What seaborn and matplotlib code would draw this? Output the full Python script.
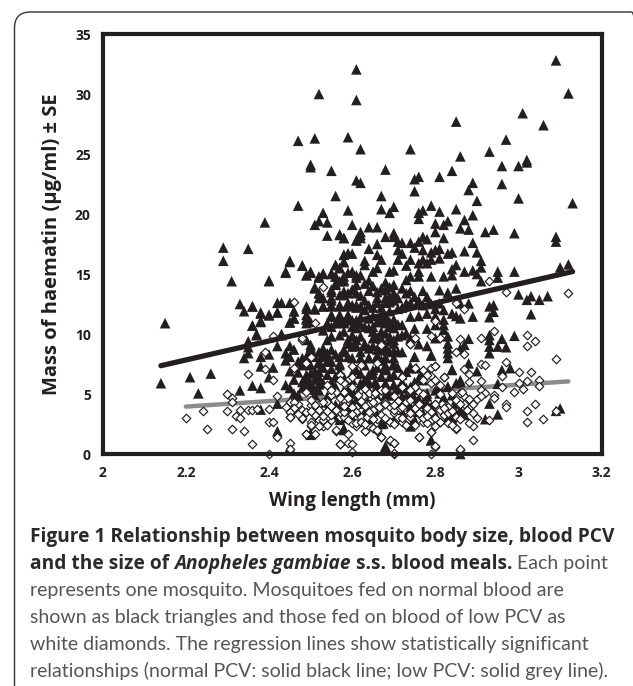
import numpy as np
import pandas as pd
import matplotlib.pyplot as plt
from matplotlib.patches import FancyBboxPatch
import seaborn as sns

# wing length (mm), haematin (ug/ml), region by region
normal_top = [(2.52,30.0),(2.47,26.1),(2.51,26.3),(2.59,26.4),(2.50,24.1),(2.50,23.9),(2.55,23.6),(2.56,21.5),
    (2.47,20.7),(2.59,20.3),(2.53,20.1),(2.39,19.3),(2.52,19.4),(2.54,19.3),(2.51,19.1),(2.60,19.1),(2.54,18.2),
    (2.57,18.3),(2.58,18.0),(2.61,32.05),(2.61,29.5),(2.85,27.7),(3.09,32.8),(3.12,30.05),(3.01,28.4),(3.06,27.4),
    (2.62,25.4),(2.74,25.4),(2.97,26.2),(2.93,25.2),(2.86,24.8),(3.02,24.5),(3.02,24.3),(2.96,24.0),(3.0,24.0),
    (2.68,23.7),(2.84,23.6),(2.81,23.1),(2.76,23.1),(2.75,22.9),(2.61,22.8),(2.62,22.6),(2.89,22.6),(2.96,22.5),
    (2.88,22.0),(2.75,21.9),(2.67,21.5),(2.90,21.1),(3.0,21.3),(3.13,20.9),(2.79,20.7),(2.70,20.6),(2.67,20.4),
    (2.77,20.3),(2.81,20.2),(2.85,20.4),(2.76,20.1),(2.69,20.1),(2.89,19.9),(2.76,19.6),(2.87,19.5),(2.83,19.4),
    (2.80,19.2),(2.82,19.1),(2.64,18.9),(2.66,18.9),(2.86,18.8),(2.88,18.7),(2.80,18.5),(2.92,18.5),(2.94,18.7),
    (2.99,18.4),(3.09,18.1),(3.09,17.7),(2.62,18.5),(2.61,17.8),(2.62,18.0),(2.68,18.1),(2.70,18.4),(2.70,18.1),
    (2.71,17.7),(2.72,17.6),(2.74,17.6),(2.76,17.7),(2.77,18.1),(2.78,17.9),(2.82,18.0),(2.89,17.6),(2.66,17.5)]
normal_left = [(2.15,10.9),(2.14,5.9),(2.21,6.4),(2.26,6.7),(2.23,5.05),(2.29,17.2),(2.35,17.1),(2.29,16.1),
    (2.31,14.4),(2.40,14.4),(2.45,16.1),(2.44,15.1),(2.48,15.7),(2.50,15.1),(2.49,14.9),(2.33,12.5),(2.34,11.9),
    (2.36,12.3),(2.38,11.8),(2.40,11.6),(2.42,12.6),(2.43,12.6),(2.45,12.6),(2.42,11.8),(2.38,11.1),(2.46,11.9),
    (2.46,11.3),(2.45,11.0),(2.49,12.1),(2.49,11.3),(2.49,10.9),(2.50,11.0),(2.51,12.1),(2.36,10.7),(2.37,10.0),
    (2.43,10.0),(2.35,9.4),(2.35,8.9),(2.34,8.0),(2.35,8.4),(2.38,8.1),(2.40,8.3),(2.38,7.3),(2.41,7.2),(2.40,6.4),
    (2.45,6.9),(2.46,6.2),(2.36,5.7),(2.38,5.5),(2.33,5.3),(2.44,5.75),(2.38,3.7),(2.42,1.9),(2.45,0.55),(2.50,1.7),
    (2.42,9.0),(2.45,9.0),(2.44,8.4),(2.46,8.7),(2.44,7.8),(2.45,8.1),(2.49,9.5),(2.50,8.9),(2.47,7.7),(2.48,8.0),
    (2.53,8.7),(2.54,8.1),(2.52,7.7),(2.55,7.7),(2.53,8.3),(2.51,6.9),(2.49,6.3),(2.50,5.9),(2.52,6.4),(2.49,5.9),
    (2.52,5.3),(2.51,4.9),(2.54,4.6),(2.56,6.4),(2.57,7.4),(2.45,5.5),(2.46,5.05),(2.47,4.9),(2.42,4.2)]
normal_upper_mid = [(2.51,13.8),(2.52,13.4),(2.53,13.0),(2.52,14.8),(2.53,15.05),(2.55,15.05),(2.56,15.75),
    (2.57,15.5),(2.56,14.8),(2.58,14.8),(2.56,14.2),(2.55,13.5),(2.57,13.25),(2.59,13.4),(2.55,12.8),(2.53,12.3),
    (2.55,12.3),(2.57,12.4),(2.59,12.4),(2.55,11.6),(2.57,11.6),(2.54,10.9),(2.56,10.9),(2.58,10.9),(2.53,10.3),
    (2.55,9.8),(2.57,9.9),(2.59,9.5),(2.54,9.5),(2.58,16.6),(2.59,16.7),(2.58,8.7),(2.59,8.1),(2.57,8.1),(2.56,5.6),
    (2.57,3.9),(2.54,3.9),(2.56,3.1),(2.58,2.1),(3.10,15.55),(3.12,15.8),(2.99,15.2),(2.95,15.2),(2.95,14.7),
    (2.87,16.9),(2.90,16.8),(2.91,16.1),(2.91,15.55),(2.89,15.3),(2.90,15.0),(2.91,14.4),(2.85,15.75),(2.84,15.4),
    (2.87,15.2),(2.82,14.8),(2.84,14.9),(2.79,14.8),(2.81,16.3),(2.79,16.8),(2.84,16.8),(2.83,16.7),(2.81,17.1),
    (2.77,16.2),(2.78,15.9),(2.76,15.9),(2.74,16.2),(2.73,15.7),(2.71,16.2),(2.70,15.3),(2.69,15.2),(2.76,15.2),
    (2.76,14.8),(2.74,14.8),(2.73,14.5),(2.66,15.5),(2.65,15.2),(2.63,16.1),(2.63,15.75),(2.62,14.9),(2.60,15.2),
    (2.58,16.0),(2.60,16.7),(2.64,14.45),(2.61,14.7),(2.58,14.5),(2.85,13.8),(2.81,13.65),(2.83,13.45),(2.77,13.6),
    (2.74,13.6),(2.78,13.1),(2.76,12.8),(2.73,12.55),(2.70,14.1),(2.69,13.9),(2.68,13.65),(2.70,13.4),(2.69,13.1),
    (2.68,13.0),(2.66,13.5),(2.66,13.0),(2.63,12.8),(2.60,13.65),(2.61,13.4),(2.57,14.4),(2.58,13.55)]
normal_lower_mid = [(3.0,13.3),(3.03,13.15),(3.02,12.85),(3.05,12.85),(3.07,13.15),(3.03,11.65),(2.93,11.4),
    (2.94,12.4),(2.93,12.3),(2.94,11.85),(2.89,11.45),(2.88,12.55),(2.86,12.55),(2.84,11.7),(2.82,12.0),(2.81,12.55),
    (2.76,11.5),(2.74,11.45),(2.71,12.1),(2.69,11.9),(2.67,11.45),(2.63,12.0),(2.64,11.3),(2.61,11.15),(2.60,11.15),
    (2.57,11.45),(2.69,12.65),(2.68,10.9),(2.69,10.6),(2.68,10.05),(2.69,9.8),(2.72,10.75),(2.73,10.05),(2.75,10.45),
    (2.72,9.9),(2.74,9.65),(2.76,9.15),(2.78,9.0),(2.67,8.65),(2.68,8.65),(2.70,9.2),(2.65,9.65),(2.63,9.2),(2.61,9.5),
    (2.60,9.8),(2.60,8.95),(2.62,8.5),(2.58,8.5),(2.80,10.75),(2.78,10.45),(2.80,9.65),(2.82,10.75),(2.82,10.35),
    (2.83,9.8),(2.83,9.2),(2.83,8.8),(2.83,8.4),(2.83,8.0),(2.88,9.6),(2.87,9.1),(2.86,8.8),(2.93,9.9),(2.93,9.5),
    (2.93,8.95),(2.93,8.4),(2.95,8.95),(2.96,9.6),(2.97,8.9),(2.99,9.85),(2.75,8.1),(2.79,8.2),(2.68,8.05),(2.64,8.0),
    (2.68,7.4),(2.58,11.0),(2.59,11.6),(2.60,10.6),(2.61,10.5),(2.62,10.8),(2.63,10.6),(2.64,10.5),(2.65,10.6),
    (2.66,11.0),(2.67,11.0),(2.68,11.5),(2.69,11.0),(2.70,11.2),(2.70,10.5),(2.71,10.8),(2.67,10.2),(2.66,9.7),
    (2.65,10.2),(2.62,9.8),(2.63,9.0),(2.61,9.0),(2.59,9.2),(2.60,8.0),(2.62,8.0),(2.64,8.8),(2.66,8.2),(2.67,7.8),
    (2.68,7.2),(2.70,8.0),(2.72,8.5),(2.67,12.2),(2.68,12.6),(2.70,12.8),(2.67,13.8),(2.68,14.3)]
normal_bottom = [(2.88,7.55),(2.90,6.9),(2.84,7.05),(2.96,7.0),(2.98,7.15),(2.95,5.85),(2.93,4.2),(2.92,2.9),
    (2.95,3.3),(3.10,3.8),(3.09,3.6),(2.70,7.4),(2.71,7.2),(2.74,7.3),(2.73,6.85),(2.65,6.7),(2.62,6.7),(2.60,6.7),
    (2.67,6.45),(2.69,6.45),(2.63,6.15),(2.64,5.9),(2.70,5.75),(2.68,5.6),(2.76,6.3),(2.77,6.85),(2.74,5.6),(2.81,5.6),
    (2.83,5.6),(2.86,6.15),(2.85,5.9),(2.81,5.05),(2.78,5.05),(2.74,4.9),(2.72,4.8),(2.70,4.9),(2.68,4.9),(2.62,4.8),
    (2.58,5.3),(2.60,4.2),(2.61,3.65),(2.72,3.5),(2.74,3.95),(2.75,2.85),(2.77,3.4),(2.78,4.2),(2.84,2.85),(2.85,4.2),
    (2.86,3.65),(2.87,3.25),(2.68,0.65),(2.67,2.5),(2.79,1.15),(2.86,0.0),(2.58,2.0)]
# second pass over the dense middle
normal_dense_low = [(2.50,9.1),(2.53,8.8),(2.55,8.7),(2.49,8.1),(2.51,8.1),(2.53,8.1),(2.52,7.55),(2.54,7.7),(2.57,7.55),
    (2.49,6.6),(2.52,6.85),(2.51,6.2),(2.48,6.0),(2.49,5.9),(2.53,5.9),(2.51,5.35),(2.47,4.9),(2.54,4.8),(2.56,4.1),
    (2.53,3.8),(2.59,5.35),(2.60,5.35),(2.58,4.2),(2.60,4.2),(2.57,2.85),(2.58,2.1),(2.59,3.65),(2.50,1.6),(2.56,6.45),
    (2.64,8.0),(2.66,8.1),(2.68,8.0),(2.75,8.1),(2.79,8.25),(2.70,7.55),(2.74,7.15),(2.755,7.15),(2.84,7.0),(2.65,7.0),
    (2.68,7.0),(2.72,6.6),(2.67,6.45),(2.70,6.6),(2.64,6.0),(2.655,6.0),(2.68,5.9),(2.70,5.75),(2.75,6.0),(2.77,6.15),
    (2.62,5.6),(2.73,5.5),(2.75,5.35),(2.83,5.6),(2.86,6.0),(2.63,4.8),(2.66,4.8),(2.70,4.9),(2.73,4.8),(2.75,4.65),
    (2.78,4.8),(2.85,4.5),(2.86,3.65),(2.62,4.2),(2.715,4.2),(2.77,4.2),(2.79,3.95),(2.72,3.5),(2.76,3.5),(2.63,3.5),
    (2.675,2.55),(2.84,3.0),(2.79,1.15),(2.68,0.6)]
normal_dense_up = [(2.57,18.25),(2.58,18.0),(2.61,17.8),(2.62,18.25),(2.59,16.7),(2.58,16.6),(2.58,16.0),(2.56,15.75),
    (2.45,16.0),(2.48,15.7),(2.44,15.2),(2.50,15.2),(2.49,14.9),(2.53,15.0),(2.55,15.0),(2.57,15.5),(2.59,15.1),(2.61,14.9),
    (2.52,14.7),(2.56,14.8),(2.40,14.45),(2.58,14.4),(2.51,13.9),(2.55,13.7),(2.56,14.1),(2.61,14.1),(2.52,13.4),(2.52,13.0),
    (2.55,13.0),(2.58,13.25),(2.60,13.7),(2.53,12.3),(2.55,12.4),(2.57,12.3),(2.59,12.3),(2.61,12.4),(2.49,12.3),(2.51,12.05),
    (2.36,12.3),(2.46,11.9),(2.38,11.7),(2.40,11.55),(2.42,11.8),(2.46,11.3),(2.49,11.6),(2.49,11.2),(2.45,10.95),(2.38,11.0),
    (2.36,10.7),(2.55,11.45),(2.57,11.2),(2.59,11.3),(2.61,10.9),(2.55,10.6),(2.58,10.2),(2.37,9.9),(2.43,9.9),(2.60,9.9),
    (2.64,17.1),(2.66,16.6),(2.67,16.2),(2.71,17.0),(2.72,16.7),(2.75,17.2),(2.77,17.0),(2.80,17.0),(2.79,16.2),(2.65,14.0),
    (2.62,13.2),(2.64,13.6),(2.63,14.2),(2.72,13.8),(2.73,13.4),(2.75,13.1),(2.77,12.4),(2.79,12.5),(2.80,12.1),(2.78,11.7),
    (2.80,11.5),(2.82,11.2),(2.85,11.5),(2.86,11.3),(2.72,12.2),(2.74,12.6),(2.71,13.0),(2.66,12.6),(2.65,12.2),(2.64,12.4),
    (2.62,12.3),(2.61,12.2),(2.60,12.4),(2.59,12.6),(2.62,11.4),(2.65,11.5),(2.70,9.5),(2.71,9.8),(2.69,9.4),(2.67,9.6),
    (2.65,9.0),(2.66,8.7),(2.67,9.2),(2.68,9.0),(2.69,8.5),(2.71,8.5),(2.70,8.6)]
normal_core = [(2.50,8.6),(2.52,8.5),(2.54,8.4),(2.56,8.3),(2.48,7.4),(2.50,7.4),(2.53,7.2),(2.55,7.1),(2.47,6.8),(2.50,6.7),
    (2.54,6.6),(2.57,6.9),(2.48,5.5),(2.50,5.6),(2.52,5.8),(2.55,6.0),(2.58,6.4),(2.60,6.2),(2.61,7.0),(2.63,7.4),(2.64,6.6),
    (2.66,7.2),(2.62,5.9),(2.60,5.0),(2.61,4.5),(2.64,5.3),(2.66,5.7),(2.69,5.0),(2.71,5.4),(2.72,6.0),(2.73,4.3),(2.76,4.6),
    (2.80,5.3),(2.82,4.7),(2.84,4.9),(2.80,3.3),(2.83,3.0),(2.85,3.4),(2.70,2.8),(2.74,2.3),(2.66,3.3),(2.64,2.9),(2.58,3.0),
    (2.60,3.0)]

low_left = [(2.20,3.0),(2.24,3.55),(2.25,2.05),(2.30,5.0),(2.31,4.65),(2.31,4.3),(2.30,3.55),(2.31,2.05),(2.32,3.2),
    (2.33,3.0),(2.33,3.65),(2.34,1.9),(2.35,3.65),(2.36,3.65),(2.37,3.75),(2.36,0.85),(2.35,6.65),(2.39,8.5),(2.41,9.8),
    (2.39,7.1),(2.41,6.2),(2.40,3.75),(2.40,2.7),(2.41,2.65),(2.42,4.8),(2.42,1.45),(2.40,0.0),(2.45,0.9),(2.45,0.45),
    (2.46,12.65),(2.53,13.9),(2.48,9.5),(2.50,8.1),(2.49,7.55),(2.46,7.15),(2.45,4.35),(2.46,3.8),(2.45,3.5),(2.45,3.05),
    (2.47,4.2),(2.48,3.65),(2.49,3.5),(2.48,2.95),(2.49,5.2),(2.50,4.1),(2.52,4.2),(2.53,3.65),(2.51,3.25),(2.50,2.7),
    (2.52,2.85),(2.50,2.3),(2.49,1.65),(2.51,1.7),(2.53,2.3),(2.55,2.85),(2.54,3.1),(2.56,1.95),(2.57,0.8),(2.57,3.1),
    (2.59,3.1),(2.58,4.65),(2.56,5.2),(2.57,6.6),(2.54,5.75),(2.59,6.15),(2.59,0.9)]
low_right = [(3.12,13.4),(2.93,14.45),(2.97,13.5),(2.85,12.6),(2.87,12.1),(2.80,11.1),(2.94,10.25),(3.02,9.9),(3.04,9.4),
    (3.02,9.0),(2.91,9.65),(3.09,7.9),(2.97,7.65),(2.91,7.5),(2.92,7.4),(3.0,6.85),(3.03,6.8),(3.05,6.2),(3.02,6.05),
    (3.0,5.9),(3.05,5.65),(3.01,5.4),(2.99,5.2),(2.96,6.5),(2.96,5.6),(2.91,6.1),(2.88,6.65),(2.87,7.05),(2.88,6.0),
    (2.91,5.35),(2.92,5.1),(2.94,4.9),(2.94,4.7),(2.97,4.2),(2.97,3.9),(3.04,4.2),(3.02,3.55),(3.06,2.9),(3.02,2.65),
    (3.09,3.55),(2.93,2.85),(2.89,1.15),(2.86,0.35),(2.80,0.6),(2.79,0.0),(2.79,1.85),(2.76,1.4),(2.70,0.0),(2.70,0.9),
    (2.69,1.1),(2.67,1.4),(2.66,1.95),(2.65,2.2),(2.63,1.95),(2.60,0.85),(2.60,0.15),(2.57,0.85),(2.85,2.1),(2.89,2.35),
    (2.88,2.55)]
low_band = [(2.90,3.0),(2.89,3.4),(2.88,3.8),(2.89,4.2),(2.90,4.55),(2.91,4.8),(2.87,4.8),(2.86,5.1),(2.87,4.2),(2.85,4.5),
    (2.82,6.4),(2.80,7.35),(2.79,7.15),(2.78,6.7),(2.79,6.5),(2.75,7.15),(2.72,6.45),(2.74,9.15),(2.67,9.1),(2.75,9.65),
    (2.79,9.85),(2.81,9.7),(2.86,9.55),(2.85,8.5),(2.87,8.3),(2.66,7.6),(2.60,7.3),(2.62,7.4),(2.57,6.6),(2.75,5.6),
    (2.79,5.9),(2.77,6.15),(2.58,4.5),(2.60,4.0),(2.62,5.2),(2.63,4.8),(2.64,4.2),(2.65,4.9),(2.66,4.45),(2.67,3.95),
    (2.68,4.35),(2.69,3.95),(2.70,3.4),(2.71,3.1),(2.73,2.4),(2.69,2.65),(2.67,3.2),(2.65,3.65),(2.62,3.1),(2.61,2.35),
    (2.60,2.55),(2.58,3.1),(2.75,3.95),(2.76,3.4),(2.77,2.7),(2.79,2.85),(2.81,2.7),(2.80,4.2),(2.81,3.65),(2.82,3.25),
    (2.83,3.95),(2.73,4.3),(2.71,3.65),(2.74,3.1),(2.72,2.7),(2.78,3.8),(2.79,3.4),(2.76,5.2),(2.74,5.3),(2.72,5.6),
    (2.67,5.35),(2.63,5.45),(2.60,5.6),(2.58,6.0),(2.61,3.95)]
low_dense = [(2.67,9.1),(2.74,9.2),(2.80,7.3),(2.77,7.0),(2.78,6.6),(2.82,6.45),(2.80,6.15),(2.81,5.75),(2.64,5.05),(2.655,5.05),
    (2.68,5.35),(2.65,4.35),(2.68,4.2),(2.70,4.8),(2.70,3.65),(2.67,3.25),(2.635,3.1),(2.69,2.7),(2.72,3.0),(2.74,3.4),
    (2.77,3.0),(2.81,2.7),(2.73,2.4),(2.78,2.55),(2.83,3.4),(2.86,4.2),(2.875,3.65),(2.815,4.2),(2.80,4.2),(2.63,1.95),
    (2.65,2.2),(2.66,2.0),(2.67,1.45),(2.76,1.4),(2.85,2.15),(2.79,1.85),(2.80,0.65),(2.86,0.4),(2.70,0.05),(2.69,1.15),
    (2.70,0.9),(2.75,3.8),(2.715,3.8),(2.665,3.95),(2.625,4.8),(2.79,3.5),(2.84,5.05),(2.865,5.2),(2.50,8.1),(2.44,3.95),
    (2.46,4.35),(2.46,3.8),(2.45,3.5),(2.45,3.05),(2.48,3.0),(2.49,3.5),(2.51,3.25),(2.50,2.4),(2.52,2.3),(2.49,1.7),
    (2.53,2.8),(2.54,2.4),(2.56,2.0),(2.55,3.25),(2.57,3.5),(2.51,4.1),(2.54,4.35),(2.55,4.9),(2.57,4.65),(2.59,4.65),
    (2.58,5.9),(2.60,6.45),(2.57,6.15),(2.55,5.35),(2.59,2.85),(2.61,2.55),(2.59,1.7),(2.61,3.5),(2.615,4.9),(2.58,3.5),
    (2.60,3.95),(2.50,4.5),(2.53,4.35),(2.51,10.9),(2.48,9.65)]
low_core = [(2.52,3.7),(2.54,3.6),(2.56,3.7),(2.58,4.0),(2.60,3.3),(2.62,2.7),(2.63,4.0),(2.64,3.5),(2.66,2.9),(2.68,3.0),(2.70,2.5),
    (2.71,4.4),(2.72,3.9),(2.74,4.5),(2.76,4.2),(2.78,3.2),(2.80,3.0),(2.82,3.8),(2.84,3.6),(2.85,3.1),(2.83,2.6),(2.80,2.3),
    (2.75,2.4),(2.70,4.1),(2.65,2.9),(2.63,2.5),(2.55,4.0),(2.53,3.2),(2.50,3.6),(2.47,3.3),(2.62,4.4),(2.58,5.2),(2.77,5.0),
    (2.81,5.0),(2.88,4.6),(2.86,2.9),(2.84,2.4)]

# regression line end points
line_x_normal = [2.14, 3.13]
line_y_normal = [7.36, 15.2]
line_x_low = [2.20, 3.12]
line_y_low = [3.95, 6.05]

x_ticks = [2, 2.2, 2.4, 2.6, 2.8, 3, 3.2]
y_ticks = [0, 5, 10, 15, 20, 25, 30, 35]

normal = pd.DataFrame(normal_top + normal_left + normal_upper_mid + normal_lower_mid + normal_bottom
                      + normal_dense_low + normal_dense_up + normal_core, columns=['wing', 'mass'])
low = pd.DataFrame(low_left + low_right + low_band + low_dense + low_core, columns=['wing', 'mass'])

sns.set_style('white')
plt.rcParams['font.family'] = ['Open Sans', 'DejaVu Sans']
ink = '#231f20'

fig = plt.figure(figsize=(6.33, 6.86), dpi=100)
ax = fig.add_axes([102.7 / 633, (686 - 454) / 686, 499 / 633, 420 / 686])

sns.lineplot(x=line_x_low, y=line_y_low, color='#8c8c8c', lw=3.2, ax=ax, zorder=2, solid_capstyle='round')
sns.scatterplot(data=normal, x='wing', y='mass', marker='^', s=58, color=ink, edgecolor='none', ax=ax, zorder=3,
                clip_on=False)
sns.scatterplot(data=low, x='wing', y='mass', marker='D', s=19, facecolor='white', edgecolor=ink, linewidth=0.85,
                ax=ax, zorder=4, clip_on=False)
sns.lineplot(x=line_x_normal, y=line_y_normal, color=ink, lw=3.8, ax=ax, zorder=5, solid_capstyle='round')

ax.set_xlim(2, 3.2)
ax.set_ylim(0, 35)
ax.set_xticks(x_ticks)
ax.set_xticklabels([str(t) for t in x_ticks])
ax.set_yticks(y_ticks)
ax.tick_params(axis='both', length=3.5, width=0.8, color='#b5b5b5', labelsize=10, labelcolor=ink, pad=5)
for lab in ax.get_xticklabels() + ax.get_yticklabels():
    lab.set_fontweight('bold')
for s in ax.spines.values():
    s.set_visible(True)
    s.set_linewidth(3)
    s.set_color(ink)
    s.set_zorder(6)
ax.set_xlabel('Wing length (mm)', fontsize=13.5, fontweight='bold', color=ink, labelpad=8)
ax.set_ylabel('Mass of haematin (µg/ml) ± SE', fontsize=14.5, fontweight='bold', color=ink, labelpad=9.5)

# card outline, runs off the right and bottom edges
fig.add_artist(FancyBboxPatch((0.145, -0.14), 6.33, 6.88, boxstyle='round,pad=0,rounding_size=0.16',
                              transform=fig.dpi_scale_trans, fc='none', ec='#333333', lw=1))

# caption, pieces of one line placed one after the other
bold_c = '#2a2a2a'
grey_c = '#555555'
lines = [
    [('Figure 1 Relationship between mosquito body size, blood PCV', 'bold', 'normal', bold_c)],
    [('and the size of ', 'bold', 'normal', bold_c), ('Anopheles gambiae', 'bold', 'italic', bold_c),
     (' s.s. blood meals.', 'bold', 'normal', bold_c), (' Each point', 'normal', 'normal', grey_c)],
    [('represents one mosquito. Mosquitoes fed on normal blood are', 'normal', 'normal', grey_c)],
    [('shown as black triangles and those fed on blood of low PCV as', 'normal', 'normal', grey_c)],
    [('white diamonds. The regression lines show statistically significant', 'normal', 'normal', grey_c)],
    [('relationships (normal PCV: solid black line; low PCV: solid grey line).', 'normal', 'normal', grey_c)],
]
baselines = [542, 569, 596, 623, 650, 677]
fig.canvas.draw()
rend = fig.canvas.get_renderer()
for parts, base in zip(lines, baselines):
    px = 30
    for txt, weight, style, col in parts:
        if weight == 'bold':
            t = fig.text(px / 633, (686 - base) / 686, txt, fontsize=13.8, fontweight=weight, fontstyle=style,
                         color=col, va='baseline', ha='left', family=['Open Sans', 'DejaVu Sans'])
        else:
            t = fig.text(px / 633, (686 - base) / 686, txt, fontsize=14, color=col, va='baseline', ha='left',
                         family=['Lato', 'DejaVu Sans'])
        px += t.get_window_extent(rend).width

fig.savefig('out.png', dpi=100)
